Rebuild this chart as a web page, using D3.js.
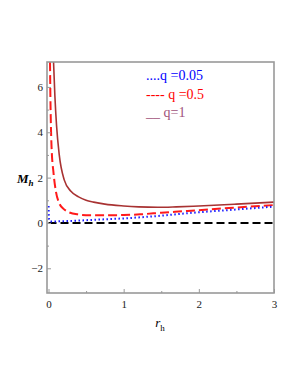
<!DOCTYPE html>
<html>
<head>
<meta charset="utf-8">
<script src="https://d3js.org/d3.v7.min.js"></script>
<style>
  body { margin: 0; background: #fff; }
  .tick text { font-family: "Liberation Serif", serif; font-size: 11px; fill: #222; }
</style>
</head>
<body>
<div id="chart"></div>
<script>
// values
var rh1 = [0.067, 0.085, 0.107, 0.143, 0.209, 0.298, 0.4, 0.5, 0.6, 0.75, 1.0, 1.2, 1.45, 1.7, 2.0, 2.5, 3.0];
var m1  = [7.1, 5.6, 4.3, 3.0, 1.9, 1.4, 1.15, 1.0, 0.92, 0.83, 0.75, 0.71, 0.69, 0.71, 0.75, 0.83, 0.92];

var rh05 = [0.02, 0.025, 0.032, 0.04, 0.067, 0.098, 0.143, 0.2, 0.253, 0.387, 0.55, 0.75, 1.0, 1.22, 1.5, 1.85, 2.4, 3.0];
var m05  = [7.1, 5.6, 4.3, 3.4, 2.2, 1.4, 0.87, 0.62, 0.5, 0.38, 0.34, 0.34, 0.35, 0.38, 0.45, 0.53, 0.66, 0.79];

var rh005 = [0.0016, 0.003, 0.005, 0.01, 0.02, 0.05, 0.12, 0.3, 0.556, 0.8, 1.0, 1.22, 1.5, 1.85, 2.4, 3.0];
var m005  = [0.75, 0.42, 0.25, 0.13, 0.08, 0.06, 0.07, 0.09, 0.13, 0.17, 0.2, 0.25, 0.32, 0.43, 0.57, 0.72];

var xTicks = [0, 1, 2, 3];
var yTicks = [-2, 0, 2, 4, 6];
var legendLabels = ["....q =0.05", "---- q =0.5", "__ q=1"];
var legendColors = ["#0000ff", "#ff0000", "#a0527a"];

var margin = {top: 62, right: 24, bottom: 92, left: 47},
    width = 298 - margin.left - margin.right,
    height = 385 - margin.top - margin.bottom;

var x = d3.scaleLinear().domain([-0.02, 3]).range([0, width]);
var y = d3.scaleLinear().domain([-3.09, 7.1]).range([height, 0]);

var svg = d3.select("#chart").append("svg")
    .attr("width", 298).attr("height", 385)
  .append("g")
    .attr("transform", "translate(" + margin.left + "," + margin.top + ")");

svg.append("defs").append("clipPath").attr("id", "clip")
  .append("rect").attr("width", width).attr("height", height);

// zero line
svg.append("line")
    .attr("x1", x(0)).attr("x2", x(3))
    .attr("y1", y(0)).attr("y2", y(0))
    .attr("stroke", "#000").attr("stroke-width", 2)
    .attr("stroke-dasharray", "8,4");

var line = d3.line()
    .x(function(d) { return x(d[0]); })
    .y(function(d) { return y(d[1]); })
    .curve(d3.curveMonotoneX);

var plot = svg.append("g").attr("clip-path", "url(#clip)");

plot.append("path")
    .datum(d3.zip(rh1, m1))
    .attr("fill", "none").attr("stroke", "#a83232").attr("stroke-width", 1.6)
    .attr("d", line);

plot.append("path")
    .datum(d3.zip(rh05, m05))
    .attr("fill", "none").attr("stroke", "#ff1a1a").attr("stroke-width", 2)
    .attr("stroke-dasharray", "9,4")
    .attr("d", line);

plot.append("path")
    .datum(d3.zip(rh005, m005))
    .attr("fill", "none").attr("stroke", "#1a1aff").attr("stroke-width", 2)
    .attr("stroke-dasharray", "1.5,2.5")
    .attr("d", line);

// frame
svg.append("rect")
    .attr("width", width).attr("height", height)
    .attr("fill", "none").attr("stroke", "#999").attr("stroke-width", 1.6);

// axes, ticks pointing inward
svg.append("g")
    .attr("transform", "translate(0," + height + ")")
    .call(d3.axisBottom(x).tickValues(xTicks).tickSize(-4).tickPadding(7).tickFormat(d3.format("d")));
svg.append("g")
    .attr("transform", "translate(0," + height + ")")
    .call(d3.axisBottom(x).tickValues([0.5, 1.5, 2.5]).tickSize(-2).tickFormat(""));

svg.append("g")
    .call(d3.axisLeft(y).tickValues(yTicks).tickSize(-4).tickPadding(4)
      .tickFormat(function(d) { return d < 0 ? "\u2212" + Math.abs(d) : d; }));
svg.append("g")
    .call(d3.axisLeft(y).tickValues([-1, 1, 3, 5]).tickSize(-2).tickFormat(""));

svg.selectAll(".domain").remove();
svg.selectAll(".tick line").attr("stroke", "#999");

// axis titles
var yl = svg.append("text")
    .attr("x", -30).attr("y", y(2) + 5)
    .attr("font-family", "Liberation Serif, serif")
    .attr("font-weight", "bold").attr("font-style", "italic")
    .attr("font-size", 13);
yl.append("tspan").text("M");
yl.append("tspan").attr("dy", 3).attr("font-size", 9).text("h");

var xl = svg.append("text")
    .attr("x", x(1.5) - 6).attr("y", height + 34)
    .attr("font-family", "Liberation Serif, serif")
    .attr("font-size", 13);
xl.append("tspan").attr("font-style", "italic").text("r");
xl.append("tspan").attr("dy", 4).attr("font-size", 9).text("h");

// legend
svg.selectAll(".leg")
    .data(legendLabels)
  .enter().append("text")
    .attr("class", "leg")
    .attr("x", 99)
    .attr("y", function(d, i) { return 18 + i * 18.5; })
    .attr("fill", function(d, i) { return legendColors[i]; })
    .attr("font-family", "Liberation Serif, serif")
    .attr("font-size", 14)
    .text(function(d) { return d; });
</script>
</body>
</html>
